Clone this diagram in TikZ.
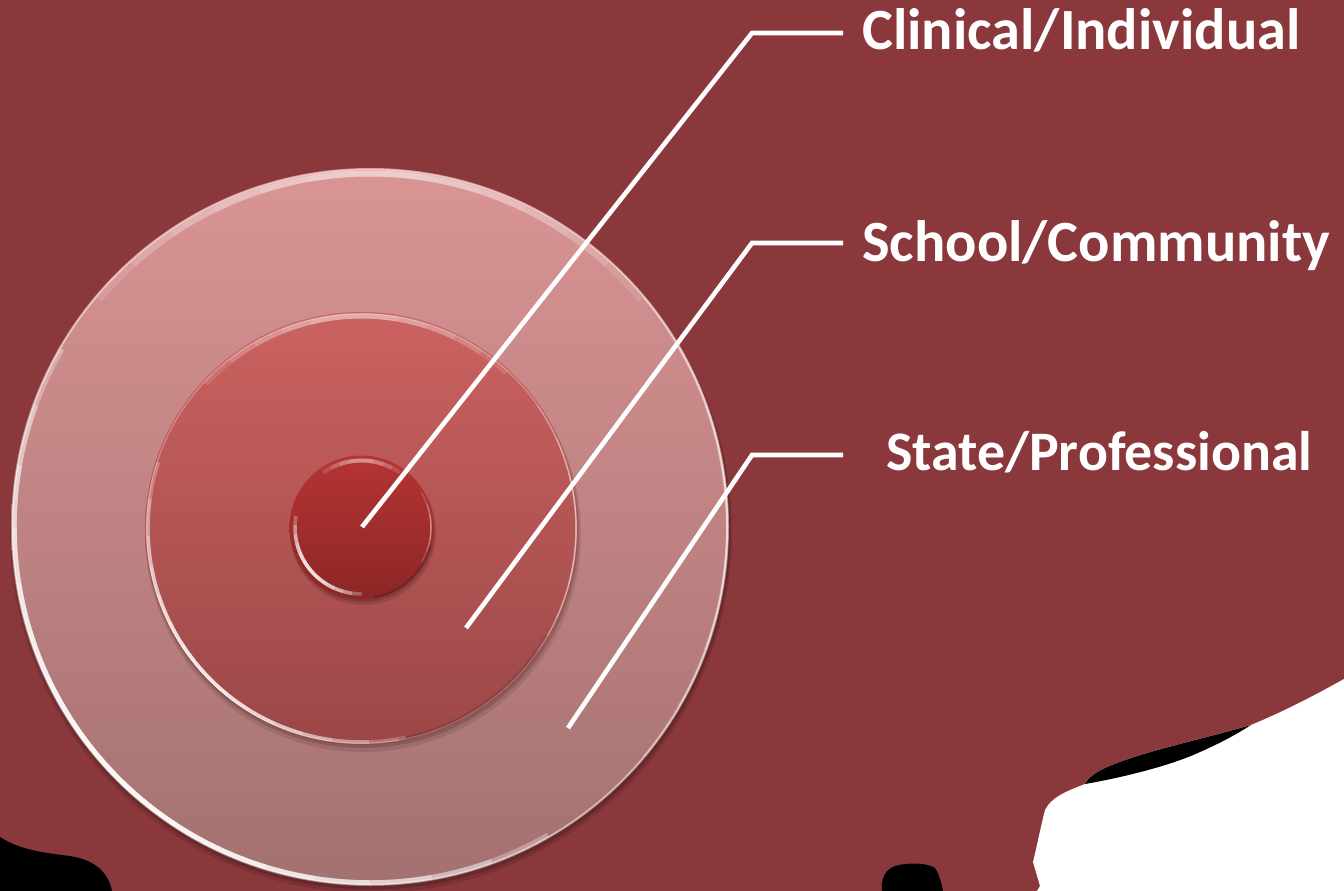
\documentclass[tikz,border=0pt]{standalone}
\usepackage{fontspec}
\setmainfont{Carlito}
\begin{document}
\definecolor{bgred}{HTML}{8A383B}
\definecolor{ringtop}{HTML}{DA9494}
\definecolor{ringbot}{HTML}{A37170}
\definecolor{midtop}{HTML}{CB6261}
\definecolor{midbot}{HTML}{9B4747}
\definecolor{coretop}{HTML}{B63434}
\definecolor{corebot}{HTML}{8C2626}
% y runs upward; page rows are written as negative values
\begin{tikzpicture}[x=1pt,y=1pt,
  leader/.style={draw=white,line width=4.6pt,line join=miter},
  label/.style={anchor=base west,text=white,font=\fontsize{58.4}{62}\selectfont\bfseries,inner sep=0pt},
  glint/.style={line cap=butt}]
% soft glint: nested arcs about a centre #1, mid angle #2, radius #3,
% line width #4, opacity per layer #5, list of half spans #6
\newcommand\glintarc[6]{%
  \foreach \hw in {#6}
    \draw[glint,white,line width=#4,opacity=#5] #1 ++({#2-\hw}:#3)
      arc [start angle=#2-\hw, end angle=#2+\hw, radius=#3];}
\useasboundingbox (0,0) rectangle (1344,-891);
% backdrop
\fill[bgred] (0,0) rectangle (1344,-891);
% torn lower edge
\fill[black] (0,-837) .. controls (20,-850) and (45,-853) .. (70,-856)
  .. controls (95,-860) and (108,-872) .. (112,-891) -- (0,-891) -- cycle;
\fill[black] (882,-891) .. controls (881,-880) and (884,-870) .. (895,-866)
  .. controls (908,-862) and (928,-863) .. (935,-868)
  .. controls (940,-876) and (942,-886) .. (943,-891) -- cycle;
\fill[white] (1344,-679) .. controls (1310,-698) and (1280,-713) .. (1251,-725)
  .. controls (1200,-740) and (1140,-752) .. (1105,-768)
  .. controls (1092,-774) and (1087,-780) .. (1085,-784)
  .. controls (1070,-790) and (1052,-796) .. (1045,-810)
  .. controls (1040,-830) and (1036,-850) .. (1033,-862)
  -- (1040,-886) -- (1037,-891) -- (1344,-891) -- cycle;
\fill[black] (1251,-725) .. controls (1200,-740) and (1140,-752) .. (1105,-768)
  .. controls (1092,-774) and (1087,-780) .. (1085,-784)
  .. controls (1120,-778) and (1170,-766) .. (1200,-752)
  .. controls (1225,-741) and (1240,-732) .. (1251,-725) -- cycle;
% outer ring
\fill[black,opacity=.12] (371,-532) circle (361);
\fill[black,opacity=.15] (371,-530) circle (359.5);
\shade[top color=ringtop,bottom color=ringbot] (370,-527) circle (359);
\draw[white,line width=1.5pt,opacity=.5] (370,-527) circle (357.5);
\glintarc{(370,-527)}{225}{355.5}{4.5pt}{.3}{75,65,55,45,36,28,20,12}
\glintarc{(370,-527)}{90}{353.5}{6pt}{.12}{50,42,34,26,18,10}
\glintarc{(370,-527)}{0}{357}{2pt}{.18}{40,30,20,10}
% middle disc
\fill[black,opacity=.1] (363,-534) circle (218);
\fill[black,opacity=.15] (362.5,-531.5) circle (216.5);
\shade[top color=midtop,bottom color=midbot] (361.5,-528.5) circle (216.5);
\draw[white,line width=1.2pt,opacity=.3] (361.5,-528.5) circle (214.8);
\glintarc{(361.5,-528.5)}{222}{213.5}{3.5pt}{.25}{60,50,40,32,24,16,9}
\glintarc{(361.5,-528.5)}{92}{212.5}{5pt}{.12}{45,36,28,20,12}
\glintarc{(361.5,-528.5)}{0}{214.5}{1.5pt}{.18}{35,25,15}
\draw[black,opacity=.15,line width=3pt] (361.5,-528.5) ++(280:214) arc (280:330:214);
% core disc
\fill[black,opacity=.12] (363,-532) circle (73);
\fill[black,opacity=.15] (362.5,-530) circle (72);
\shade[top color=coretop,bottom color=corebot] (361.5,-527.5) circle (72);
\glintarc{(361.5,-527.5)}{220}{66.5}{3.5pt}{.28}{50,42,34,26,18,10}
\glintarc{(361.5,-527.5)}{90}{67}{4pt}{.14}{35,27,19,11}
\glintarc{(361.5,-527.5)}{0}{69.5}{1.5pt}{.18}{30,20,10}
\draw[black,opacity=.18,line width=2pt] (361.5,-527.5) ++(280:71) arc (280:345:71);
% leader lines and labels
\coordinate (c1) at (362,-527);
\coordinate (k1) at (752,-33);
\coordinate (e1) at (843,-33);
\coordinate (c2) at (466,-628);
\coordinate (k2) at (752,-243);
\coordinate (e2) at (843,-243);
\coordinate (c3) at (568,-728);
\coordinate (k3) at (752,-455);
\coordinate (e3) at (843,-455);
\draw[leader] (c1) -- (k1) -- (e1);
\draw[leader] (c2) -- (k2) -- (e2);
\draw[leader] (c3) -- (k3) -- (e3);
\node[label] (t1) at (862,-50) {Clinical/Individual};
\node[label] (t2) at (862,-261) {School/Community};
\node[label,font=\fontsize{55.8}{60}\selectfont\bfseries] (t3) at (886,-470) {State/Professional};
\end{tikzpicture}
\end{document}
